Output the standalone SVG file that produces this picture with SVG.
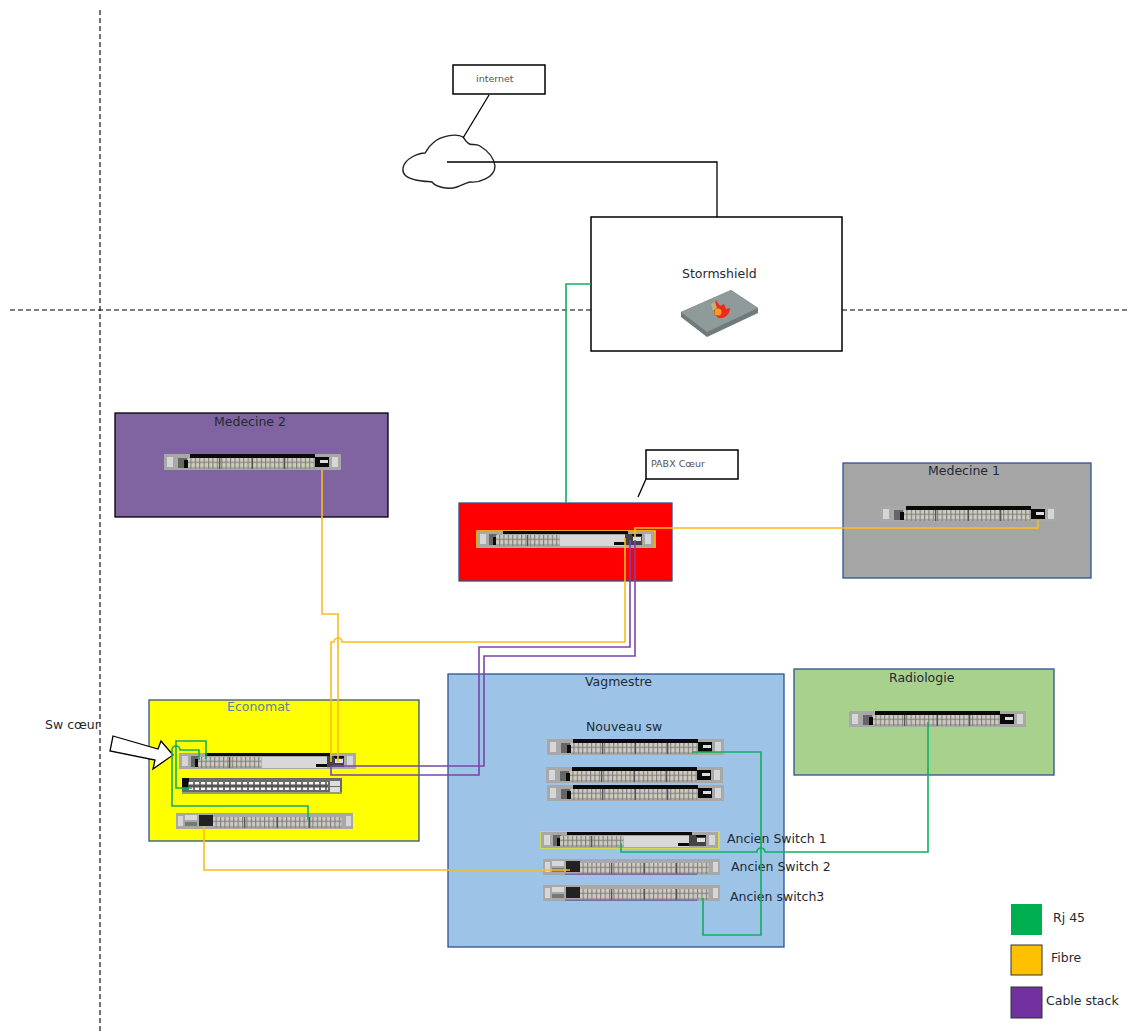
<svg xmlns="http://www.w3.org/2000/svg" width="1131" height="1032" viewBox="0 0 1131 1032">
<style>
text{font-family:"DejaVu Sans","Liberation Sans",sans-serif;fill:#1f2a33;font-size:12.5px}
.small{font-size:9.5px;fill:#555}
.eco{fill:#5b7fa6;font-size:12.5px}
.zone{stroke:#2f528f;stroke-width:1.3}
.box{fill:#fff;stroke:#000;stroke-width:1.5}
.dash{fill:none;stroke:#000;stroke-width:1.1;stroke-dasharray:5 3}
.wire{fill:none;stroke-width:1.6}
.blk{stroke:#000;stroke-width:1.3;fill:none}
.rj{stroke:#10b060}
.fib{stroke:#fbbc1e}
.stk{stroke:#7a45ac}
.body{fill:#a8a8a8}
.ear{fill:#d6d6d6}
.dark{fill:#0a0a0a}
.panel{fill:#d8d8d8}
.gap{fill:#555}
</style>
<defs>
<pattern id="ports" width="4.4" height="5.5" patternUnits="userSpaceOnUse">
<rect width="4.4" height="5.5" fill="#cfcbbf"/>
<rect x="0" y="0" width="1.1" height="5.5" fill="#7d7d7d"/>
<rect y="2.4" width="4.4" height="1" fill="#7d7d7d"/>
</pattern>
<pattern id="wports" width="6" height="8" patternUnits="userSpaceOnUse">
<rect width="6" height="8" fill="#555"/>
<rect x="0.8" y="1.5" width="4.4" height="5" fill="#f7f7f2"/>
</pattern>
<symbol id="swA" viewBox="0 0 177 16" width="177" height="16">
<rect width="177" height="16" class="body"/>
<rect x="3" y="3" width="6" height="10" class="ear"/>
<rect x="168" y="3" width="6" height="10" class="ear"/>
<rect x="26" y="0" width="125" height="4" class="dark"/>
<rect x="14" y="4" width="9" height="10" fill="#666"/>
<rect x="20" y="6" width="4" height="8" class="dark"/>
<rect x="24" y="4" width="31" height="11" fill="url(#ports)"/>
<rect x="55" y="4" width="1.5" height="11" class="gap"/>
<rect x="56.5" y="4" width="31" height="11" fill="url(#ports)"/>
<rect x="87.5" y="4" width="1.5" height="11" class="gap"/>
<rect x="89" y="4" width="31" height="11" fill="url(#ports)"/>
<rect x="120" y="4" width="1.5" height="11" class="gap"/>
<rect x="121.5" y="4" width="29" height="11" fill="url(#ports)"/>
<rect x="151" y="3" width="14" height="10" class="dark"/>
<rect x="156" y="6" width="8" height="3" fill="#ddd"/>
</symbol>
<symbol id="swB" viewBox="0 0 177 16" width="177" height="16">
<rect width="177" height="16" class="body"/>
<rect x="3" y="3" width="6" height="10" class="ear"/>
<rect x="168" y="3" width="6" height="10" class="ear"/>
<rect x="26" y="0" width="125" height="3" class="dark"/>
<rect x="12" y="3" width="8" height="11" fill="#666"/>
<rect x="16" y="6" width="4" height="8" class="dark"/>
<rect x="19" y="4" width="31" height="11" fill="url(#ports)"/>
<rect x="50" y="4" width="1.5" height="11" class="gap"/>
<rect x="51.5" y="4" width="31" height="11" fill="url(#ports)"/>
<rect x="83" y="4" width="65" height="11" class="panel"/>
<rect x="137" y="11" width="12" height="3" class="dark"/>
<rect x="148" y="3" width="17" height="11" fill="#444"/>
<rect x="156" y="6" width="8" height="4" fill="#ddd"/>
<rect x="155" y="3" width="10" height="2" class="dark"/>
</symbol>
<symbol id="swC" viewBox="0 0 177 16" width="177" height="16">
<rect width="177" height="16" class="body"/>
<rect x="2" y="3" width="5" height="10" class="ear"/>
<rect x="170" y="3" width="5" height="10" class="ear"/>
<rect x="9" y="2" width="12" height="5" fill="#d8d8d8"/>
<rect x="9" y="9" width="12" height="4" fill="#777"/>
<rect x="23" y="2" width="14" height="11" fill="#222"/>
<rect x="37" y="4" width="31" height="11" fill="url(#ports)"/>
<rect x="68" y="4" width="1.5" height="11" class="gap"/>
<rect x="69.5" y="4" width="31" height="11" fill="url(#ports)"/>
<rect x="100.5" y="4" width="1.5" height="11" class="gap"/>
<rect x="102" y="4" width="31" height="11" fill="url(#ports)"/>
<rect x="133" y="4" width="1.5" height="11" class="gap"/>
<rect x="134.5" y="4" width="31" height="11" fill="url(#ports)"/>
</symbol>
<symbol id="swD" viewBox="0 0 160 16" width="160" height="16">
<rect width="160" height="16" fill="#6a6a6a"/>
<rect y="14" width="160" height="2" fill="#9a9a7a"/>
<rect x="0" y="0" width="7" height="10" class="dark"/>
<rect x="6" y="4" width="140" height="8" fill="url(#wports)"/>
<rect x="148" y="3" width="10" height="5" fill="#ddd"/>
<rect x="148" y="9" width="10" height="5" fill="#ddd"/>
</symbol>
</defs>
<rect width="1131" height="1032" fill="#fff"/>
<path class="dash" d="M100 10V1032M10 310H1130"/>

<g id="cloud"><path d="M463 137C456 133 440 136 433 143C428 147 427 151 425 153C419 153 405 158 403 168C402 175 407 179 422 181C427 182 430 181 432 182C436 187 448 190 457 187C463 185 468 182 470 182C478 183 495 178 495 166C494 158 488 151 480 146C476 143 470 146 468 143C465 141 465 139 463 137Z" fill="#fff" stroke="#222" stroke-width="1.4"/></g>
<g id="internet"><rect class="box" x="453" y="65" width="92" height="29"/><text class="small" x="476" y="82">internet</text></g>
<g id="stormshield"><rect class="box" x="591" y="217" width="251" height="134"/><text x="682" y="278">Stormshield</text>
<path d="M681 312L731 290L758 308V313L707 337L681 317Z" fill="#6f7a7a"/>
<path d="M681 312L731 290L758 308L707 332Z" fill="#8f9a9a"/>
<path d="M716 300L720 306L724 304L726 309L730 308C730 315 724 319 719 318C715 316 713 312 714 308Z" fill="#ef2a1c"/>
<circle cx="718" cy="312" r="3.5" fill="#f9a11b"/>
<path d="M711 304L715 302L717 308L713 311Z" fill="#b4b87c"/></g>
<g id="medecine2"><rect x="115" y="413" width="273" height="104" fill="#8064a2" stroke="#000" stroke-width="1.3"/><text x="214" y="426">Medecine 2</text><use href="#swA" x="164" y="454"/></g>
<g id="pabx"><rect x="459" y="503" width="213" height="78" fill="#ff0000" class="zone"/><rect x="477" y="531" width="178" height="16" fill="none" stroke="#e8e020" stroke-width="1.5"/><use href="#swB" x="477" y="531"/></g>
<g id="pabx-label"><rect class="box" x="646" y="450" width="92" height="29"/><text class="small" x="651" y="467">PABX Cœur</text><path class="blk" d="M646 479L638 497"/></g>
<g id="medecine1"><rect x="843" y="463" width="248" height="115" fill="#a5a5a5" class="zone"/><text x="928" y="475">Medecine 1</text><use href="#swA" x="880" y="506"/></g>
<g id="radiologie"><rect x="794" y="669" width="260" height="106" fill="#a9d18e" class="zone"/><text x="889" y="682">Radiologie</text><use href="#swA" x="849" y="711"/></g>
<g id="economat"><rect x="149" y="700" width="270" height="141" fill="#ffff00" class="zone"/><text class="eco" x="227" y="711">Economat</text>
<use href="#swB" x="179" y="753"/><use href="#swD" x="182" y="778"/><use href="#swC" x="176" y="813"/></g>
<g id="vagmestre"><rect x="448" y="674" width="336" height="273" fill="#9dc3e6" class="zone"/><text x="585" y="686">Vagmestre</text><text x="586" y="731">Nouveau sw</text>
<use href="#swA" x="547" y="739"/><use href="#swA" x="546" y="767"/><use href="#swA" x="547" y="785"/>
<rect x="541" y="832" width="178" height="16" fill="none" stroke="#e8e020" stroke-width="1.5"/><use href="#swB" x="541" y="832"/>
<use href="#swC" x="543" y="859"/><use href="#swC" x="543" y="885"/>
<rect x="565" y="873.5" width="132" height="1.5" fill="#7a68a8"/><rect x="565" y="899.5" width="132" height="1.5" fill="#7a68a8"/></g>
<g id="labels"><text x="45" y="729">Sw cœur</text><text x="727" y="843">Ancien Switch 1</text><text x="731" y="871">Ancien Switch 2</text><text x="730" y="901">Ancien switch3</text></g>
<g id="arrow"><path d="M113 736L158 749L161 741L173 755L153 769L155 760L110 751Z" fill="#fff" stroke="#000" stroke-width="1.3"/></g>

<g id="connectors">
<path class="blk" d="M489 95L463 138M447 162H717V217"/>
<path class="wire rj" d="M591 284H566V503"/>
<path class="wire fib" d="M322 470V614H338V762"/>
<path class="wire fib" d="M625 538V642H342A4 4 0 0 0 334 642H331V762"/>
<path class="wire fib" d="M635 537V528H1038V520"/>
<path class="wire fib" d="M204 826V870H570"/>
<path class="wire stk" d="M630 540V647H479V775H331V766"/>
<path class="wire stk" d="M635 540V656H484V766H332"/>
<path class="wire rj" d="M692 752H761V935H703V898"/>
<path class="wire rj" d="M621 843V852H757A4 4 0 0 1 765 852H928V722"/>
<path class="wire rj" d="M206 759V741H176V788H192"/>
<path class="wire rj" d="M199 760V750H180A4 4 0 0 0 172 750V806H308V820"/>
</g>

<g id="legend">
<rect x="1011" y="904" width="31" height="31" fill="#00b050"/><text x="1053" y="922">Rj 45</text>
<rect x="1011" y="945" width="31" height="30" fill="#ffc000" stroke="#333" stroke-width="1"/><text x="1051" y="962">Fibre</text>
<rect x="1011" y="987" width="31" height="31" fill="#7030a0" stroke="#333" stroke-width="1"/><text x="1046" y="1005">Cable stack</text>
</g>
</svg>
